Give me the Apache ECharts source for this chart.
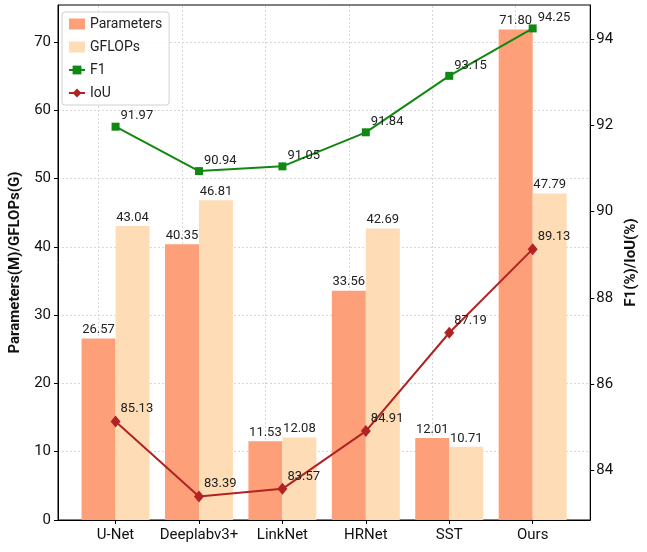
<!DOCTYPE html>
<html>
<head>
<meta charset="utf-8">
<script src="https://cdn.jsdelivr.net/npm/echarts@6/dist/echarts.min.js"></script>
<style>
  html, body { margin: 0; padding: 0; background: #fff; }
  #chart { width: 647px; height: 552px; }
</style>
</head>
<body>
<div id="chart"></div>
<script>
// Model names along the x axis
const categories = ['U-Net', 'Deeplabv3+', 'LinkNet', 'HRNet', 'SST', 'Ours'];
// Model size (M) and compute (G)
const parameters = [26.57, 40.35, 11.53, 33.56, 12.01, 71.80];
const gflops = [43.04, 46.81, 12.08, 42.69, 10.71, 47.79];
// Accuracy metrics (%)
const f1 = [91.97, 90.94, 91.05, 91.84, 93.15, 94.25];
const iou = [85.13, 83.39, 83.57, 84.91, 87.19, 89.13];
// Tick values
const leftTicks = [0, 10, 20, 30, 40, 50, 60, 70];
const rightTicks = [84, 86, 88, 90, 92, 94];

const FONT = 'Roboto, "Noto Sans", sans-serif';
const idx = categories.map((_, i) => i);
const pts = arr => arr.map((v, i) => [i, v]);
const gridLine = { color: '#d8d8d8', type: [2, 2], width: 1 };

const chart = echarts.init(document.getElementById('chart'));

const barLabel = {
  show: true,
  position: 'top',
  distance: 2,
  color: '#222',
  fontSize: 13,
  fontFamily: FONT,
  formatter: p => p.value[1].toFixed(2)
};
const lineLabel = {
  show: true,
  position: 'top',
  align: 'left',
  distance: 2,
  offset: [5, 2],
  color: '#222',
  fontSize: 13,
  fontFamily: FONT,
  formatter: p => p.value[1].toFixed(2)
};

chart.setOption({
  animation: false,
  textStyle: { fontFamily: FONT },
  grid: {
    left: 58, right: 49, top: 5, bottom: 32,
    show: true, borderColor: '#000', borderWidth: 1, backgroundColor: 'transparent'
  },
  legend: {
    orient: 'vertical',
    left: 62, top: 12,
    padding: [5, 7, 5, 6],
    itemGap: 9,
    itemWidth: 16,
    itemHeight: 11,
    backgroundColor: 'rgba(255,255,255,0.85)',
    borderColor: '#d0d0d0',
    borderWidth: 1,
    borderRadius: 3,
    textStyle: { fontSize: 14, color: '#222', fontFamily: FONT, lineHeight: 14 },
    data: [
      { name: 'Parameters', icon: 'rect' },
      { name: 'GFLOPs', icon: 'rect' },
      { name: 'F1' },
      { name: 'IoU' }
    ]
  },
  xAxis: {
    type: 'value',
    min: -0.69,
    max: 5.69,
    axisLine: { show: true, onZero: false, lineStyle: { color: '#000', width: 1 } },
    axisTick: { show: true, length: 4, customValues: idx, lineStyle: { color: '#000' } },
    axisLabel: {
      customValues: idx,
      formatter: v => categories[Math.round(v)] || '',
      color: '#111', fontSize: 15, margin: 8, fontFamily: FONT
    },
    splitLine: { show: false }
  },
  yAxis: [
    {
      type: 'value',
      min: 0,
      max: 75.39,
      interval: 10,
      position: 'left',
      name: 'Parameters(M)/GFLOPs(G)',
      nameLocation: 'middle',
      nameGap: 35,
      nameTextStyle: { fontSize: 15, fontWeight: 'bold', color: '#111', fontFamily: FONT },
      axisLine: { show: true, onZero: false, lineStyle: { color: '#000' } },
      axisTick: { show: true, length: 4, customValues: leftTicks, lineStyle: { color: '#000' } },
      axisLabel: { customValues: leftTicks, color: '#111', fontSize: 15, margin: 7, fontFamily: FONT },
      splitLine: { show: true, lineStyle: gridLine }
    },
    {
      type: 'value',
      min: 82.847,
      max: 94.793,
      position: 'right',
      name: 'F1(%)/IoU(%)',
      nameLocation: 'middle',
      nameGap: 33,
      nameTextStyle: { fontSize: 15, fontWeight: 'bold', color: '#111', fontFamily: FONT },
      axisLine: { show: true, onZero: false, lineStyle: { color: '#000' } },
      axisTick: { show: true, length: 4, customValues: rightTicks, lineStyle: { color: '#000' } },
      axisLabel: { customValues: rightTicks, color: '#111', fontSize: 15, margin: 6, fontFamily: FONT },
      splitLine: { show: false }
    }
  ],
  series: [
    {
      name: 'Parameters',
      type: 'bar',
      yAxisIndex: 0,
      barWidth: 34,
      barGap: '0%',
      itemStyle: { color: '#FD9F78' },
      label: barLabel,
      data: pts(parameters),
      z: 2,
      // vertical grid lines at each model position, kept behind the bars
      markLine: {
        silent: true,
        z: 1,
        symbol: 'none',
        label: { show: false },
        lineStyle: gridLine,
        emphasis: { disabled: true },
        data: idx.map(i => ({ xAxis: i }))
      }
    },
    {
      name: 'GFLOPs',
      type: 'bar',
      yAxisIndex: 0,
      barWidth: 34,
      barGap: '0%',
      itemStyle: { color: '#FEDDB6' },
      label: barLabel,
      data: pts(gflops),
      z: 2
    },
    {
      name: 'F1',
      type: 'line',
      yAxisIndex: 1,
      symbol: 'rect',
      symbolSize: 8,
      showAllSymbol: true,
      lineStyle: { color: '#118811', width: 2 },
      itemStyle: { color: '#118811' },
      label: lineLabel,
      data: pts(f1),
      z: 5
    },
    {
      name: 'IoU',
      type: 'line',
      yAxisIndex: 1,
      symbol: 'diamond',
      symbolSize: [10, 12],
      showAllSymbol: true,
      lineStyle: { color: '#B22222', width: 2 },
      itemStyle: { color: '#B22222' },
      label: lineLabel,
      data: pts(iou),
      z: 5
    }
  ]
});
</script>
</body>
</html>
